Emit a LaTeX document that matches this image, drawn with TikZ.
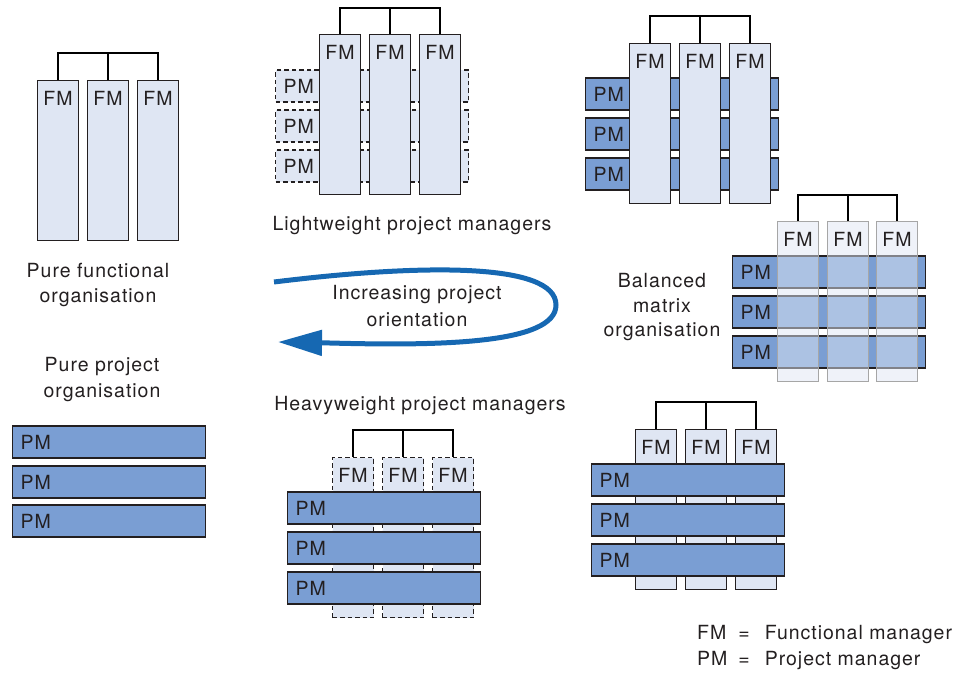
\documentclass[tikz,border=0pt]{standalone}
\usepackage{fontspec}
\setmainfont{TeX Gyre Heros}[LetterSpace=5]
\usetikzlibrary{arrows.meta}
\definecolor{fmblue}{RGB}{223,230,243}
\definecolor{pmblue}{RGB}{122,158,211}
\definecolor{arrowblue}{RGB}{22,104,178}
\definecolor{inkgray}{RGB}{35,31,32}

\begin{document}
\begin{tikzpicture}[x=1pt, y=-1pt, font=\fontsize{19.5}{24}\selectfont, text=inkgray]
  \tikzstyle{fmbar} = [rectangle, draw=inkgray, line width=1.1pt, fill=fmblue, minimum width=41pt, inner sep=0pt, text height=24.5pt, text depth=135.5pt, anchor=north]
  \tikzstyle{pmbar} = [rectangle, draw=inkgray, line width=1.1pt, fill=pmblue, text width=177pt, inner xsep=8pt, inner ysep=0pt, minimum height=32pt, align=left, anchor=west]
  \tikzstyle{ghost} = [dash pattern=on 4.5pt off 3pt]
  \tikzstyle{tree} = [draw=black, line width=2.2pt]
  \tikzstyle{caption} = [anchor=base, inner sep=0pt]

  \useasboundingbox (0,0) rectangle (958,672);

  % pure functional organisation
  \node[fmbar] (pf1) at (58,80) {FM};
  \node[fmbar] (pf2) at (108,80) {FM};
  \node[fmbar] (pf3) at (158,80) {FM};
  \coordinate (pft) at (108,53);
  \draw[tree] (pf1.north) |- (pft) -| (pf3.north);
  \draw[tree] (pf2.north) -- (pft);
  \node[caption] (cpf1) at (98,277) {Pure functional};
  \node[caption] (cpf2) at (98,302) {organisation};

  % lightweight project managers
  \node[pmbar, ghost, fill=fmblue] (lp1) at (275,86) {PM};
  \node[pmbar, ghost, fill=fmblue] (lp2) at (275,126) {PM};
  \node[pmbar, ghost, fill=fmblue] (lp3) at (275,166) {PM};
  \node[fmbar] (lf1) at (340,34) {FM};
  \node[fmbar] (lf2) at (390,34) {FM};
  \node[fmbar] (lf3) at (440,34) {FM};
  \coordinate (lft) at (390,8);
  \draw[tree] (lf1.north) |- (lft) -| (lf3.north);
  \draw[tree] (lf2.north) -- (lft);
  \node[caption] (clw) at (412,230) {Lightweight project managers};

  % functional matrix
  \node[pmbar] (mp1) at (585,94) {PM};
  \node[pmbar] (mp2) at (585,134) {PM};
  \node[pmbar] (mp3) at (585,174) {PM};
  \node[fmbar] (mf1) at (650,43) {FM};
  \node[fmbar] (mf2) at (700,43) {FM};
  \node[fmbar] (mf3) at (750,43) {FM};
  \coordinate (mft) at (700,16);
  \draw[tree] (mf1.north) |- (mft) -| (mf3.north);
  \draw[tree] (mf2.north) -- (mft);

  % balanced matrix organisation
  \node[pmbar] (bp1) at (732,272) {PM};
  \node[pmbar] (bp2) at (732,312) {PM};
  \node[pmbar] (bp3) at (732,352) {PM};
  \node[fmbar, draw=black!35, fill opacity=0.5, text opacity=1] (bf1) at (798,221) {FM};
  \node[fmbar, draw=black!35, fill opacity=0.5, text opacity=1] (bf2) at (848,221) {FM};
  \node[fmbar, draw=black!35, fill opacity=0.5, text opacity=1] (bf3) at (897,221) {FM};
  \coordinate (bft) at (848,195);
  \draw[tree] (bf1.north) |- (bft) -| (bf3.north);
  \draw[tree] (bf2.north) -- (bft);
  \node[caption] (cbm1) at (662,287) {Balanced};
  \node[caption] (cbm2) at (662,312) {matrix};
  \node[caption] (cbm3) at (662,336) {organisation};

  % increasing project orientation
  \coordinate (arrs) at (274,282);
  \coordinate (arre) at (278,342);
  \draw[arrowblue, line width=5pt, -{Triangle[length=44pt, width=25pt]}] (arrs) .. controls (420,264) and (556,262) .. (556,305) .. controls (556,344) and (440,346) .. (330,343) -- (arre);
  \node[caption] (cio1) at (417,299) {Increasing project};
  \node[caption] (cio2) at (417,326) {orientation};

  % pure project organisation
  \node[caption] (cpp1) at (102,371) {Pure project};
  \node[caption] (cpp2) at (102,397) {organisation};
  \node[pmbar] (pp1) at (12,442) {PM};
  \node[pmbar] (pp2) at (12,482) {PM};
  \node[pmbar] (pp3) at (12,521) {PM};

  % heavyweight project managers
  \node[caption] (chw) at (420,410) {Heavyweight project managers};
  \node[fmbar, ghost] (hf1) at (353,457) {FM};
  \node[fmbar, ghost] (hf2) at (403,457) {FM};
  \node[fmbar, ghost] (hf3) at (453,457) {FM};
  \coordinate (hft) at (403,430);
  \draw[tree] (hf1.north) |- (hft) -| (hf3.north);
  \draw[tree] (hf2.north) -- (hft);
  \node[pmbar] (hp1) at (287,508) {PM};
  \node[pmbar] (hp2) at (287,548) {PM};
  \node[pmbar] (hp3) at (287,588) {PM};

  % project matrix
  \node[fmbar] (qf1) at (656,429) {FM};
  \node[fmbar] (qf2) at (706,429) {FM};
  \node[fmbar] (qf3) at (756,429) {FM};
  \coordinate (qft) at (706,402);
  \draw[tree] (qf1.north) |- (qft) -| (qf3.north);
  \draw[tree] (qf2.north) -- (qft);
  \node[pmbar] (qp1) at (591,480) {PM};
  \node[pmbar] (qp2) at (591,520) {PM};
  \node[pmbar] (qp3) at (591,560) {PM};

  % key
  \node[anchor=base west, inner sep=0pt, font=\fontsize{19.5}{26}\selectfont] (key) at (697,639)
    {\begin{tabular}[t]{@{}l@{\hspace{11pt}}l@{\hspace{15pt}}l@{}}FM & = & Functional manager\\PM & = & Project manager\end{tabular}};
\end{tikzpicture}
\end{document}
